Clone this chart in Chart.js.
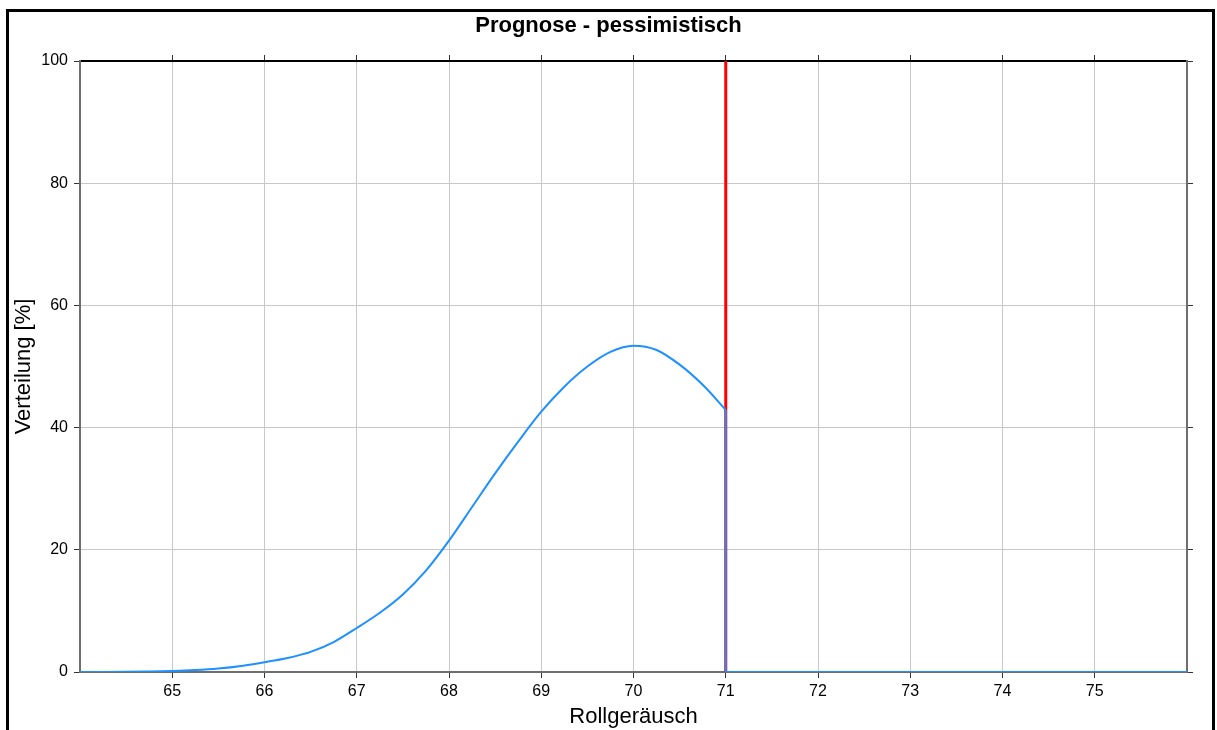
<!DOCTYPE html>
<html>
<head>
<meta charset="utf-8">
<script src="https://cdn.jsdelivr.net/npm/chart.js@4/dist/chart.umd.min.js"></script>
<style>
  html, body { margin: 0; padding: 0; background: #fff; overflow: hidden; }
  #wrap { position: absolute; left: 0; top: 0; width: 1217px; height: 730px; }
  #frame { position: absolute; left: 6px; top: 9px; width: 1203px; height: 800px;
           border: 3px solid #000; pointer-events: none; }
</style>
</head>
<body>
<div id="wrap"><canvas id="chart"></canvas></div>
<div id="frame"></div>
<script>
// --- data ---
// distribution curve up to the limit
const curveX = [64, 64.25, 64.5, 64.75, 65, 65.25, 65.5, 65.75, 66, 66.25, 66.5, 66.75,
                67, 67.25, 67.5, 67.75, 68, 68.25, 68.5, 68.75, 69, 69.25, 69.5, 69.75,
                70, 70.25, 70.5, 70.75, 71];
const curveY = [0, 0.01, 0.04, 0.09, 0.17, 0.32, 0.58, 1.0, 1.6, 2.3, 3.3, 4.9,
                7.2, 9.7, 12.7, 16.6, 21.5, 27.0, 32.5, 37.7, 42.6, 46.7, 50.0, 52.4,
                53.4, 52.7, 50.3, 47.0, 42.9];
// cut-off: drop to zero at the limit and stay there
const dropX = [71, 71, 76];
const dropY = [42.9, 0, 0];
// red limit line
const limitX = [71, 71];
const limitY = [0, 100];
const xTicks = [65, 66, 67, 68, 69, 70, 71, 72, 73, 74, 75];

const FONT = '"Liberation Sans", Arial, sans-serif';
const BLUE = '#1e90ff';

function toPoints(xs, ys) {
    return xs.map((x, i) => ({ x: x, y: ys[i] }));
}

// only 65..75 get ticks, the ends sit on the frame
function keepTicks(scale) {
    scale.ticks = xTicks.map(v => ({ value: v }));
}

// grid lines at 0 and 100 would cover the frame lines
function yGridColor(ctx) {
    const v = ctx.tick ? ctx.tick.value : null;
    return (v === 0 || v === 100) ? 'rgba(0,0,0,0)' : '#c8c8c8';
}

const ctx = document.getElementById('chart').getContext('2d');
new Chart(ctx, {
    type: 'scatter',
    data: {
        datasets: [{
            label: 'Verteilung',
            data: toPoints(curveX, curveY),
            showLine: true,
            borderColor: BLUE,
            borderWidth: 2,
            pointRadius: 0,
            cubicInterpolationMode: 'monotone'
        }, {
            label: 'Abbruch',
            data: toPoints(dropX, dropY),
            showLine: true,
            borderColor: BLUE,
            borderWidth: 2,
            pointRadius: 0,
            tension: 0
        }, {
            label: 'Grenze',
            data: toPoints(limitX, limitY),
            showLine: true,
            borderColor: '#ff0000',
            borderWidth: 3,
            pointRadius: 0
        }]
    },
    options: {
        responsive: true,
        maintainAspectRatio: false,
        animation: false,
        layout: { padding: 0 },
        plugins: {
            legend: { display: false },
            tooltip: { enabled: false },
            title: {
                display: true,
                text: 'Prognose - pessimistisch',
                color: '#000',
                font: { family: FONT, size: 22, weight: 'bold', lineHeight: '26px' },
                padding: { top: 13, bottom: 0 }
            }
        },
        scales: {
            x: {
                type: 'linear', position: 'bottom', min: 64, max: 76,
                afterBuildTicks: keepTicks,
                afterFit: s => { s.height = 58; },
                grid: { color: '#c8c8c8', lineWidth: 1, tickLength: 6, tickColor: '#333' },
                border: { display: true, color: '#6e6e6e', width: 2 },
                ticks: { color: '#000', padding: 4, font: { family: FONT, size: 16 } },
                title: {
                    display: true, text: 'Rollgeräusch', color: '#000',
                    font: { family: FONT, size: 22, lineHeight: '26px' },
                    padding: { top: 0, bottom: 0 }
                }
            },
            x2: {
                type: 'linear', position: 'top', min: 64, max: 76,
                afterBuildTicks: keepTicks,
                afterFit: s => { s.height = 22; },
                grid: { drawOnChartArea: false, tickLength: 6, tickColor: '#333' },
                border: { display: true, color: '#000', width: 2 },
                ticks: { display: false }
            },
            y: {
                type: 'linear', position: 'left', min: 0, max: 100,
                afterFit: s => { s.width = 80; },
                grid: { color: yGridColor, lineWidth: 1, tickLength: 6, tickColor: '#333' },
                border: { display: true, color: '#6e6e6e', width: 2 },
                ticks: { stepSize: 20, color: '#000', padding: 6, font: { family: FONT, size: 16 } },
                title: {
                    display: true, text: 'Verteilung [%]', color: '#000',
                    font: { family: FONT, size: 22, lineHeight: '26px' },
                    padding: { top: 11, bottom: 0 }
                }
            },
            y2: {
                type: 'linear', position: 'right', min: 0, max: 100,
                afterFit: s => { s.width = 30; },
                grid: { drawOnChartArea: false, tickLength: 6, tickColor: '#333' },
                border: { display: true, color: '#6e6e6e', width: 2 },
                ticks: { stepSize: 20, display: false }
            }
        }
    }
});
</script>
</body>
</html>
